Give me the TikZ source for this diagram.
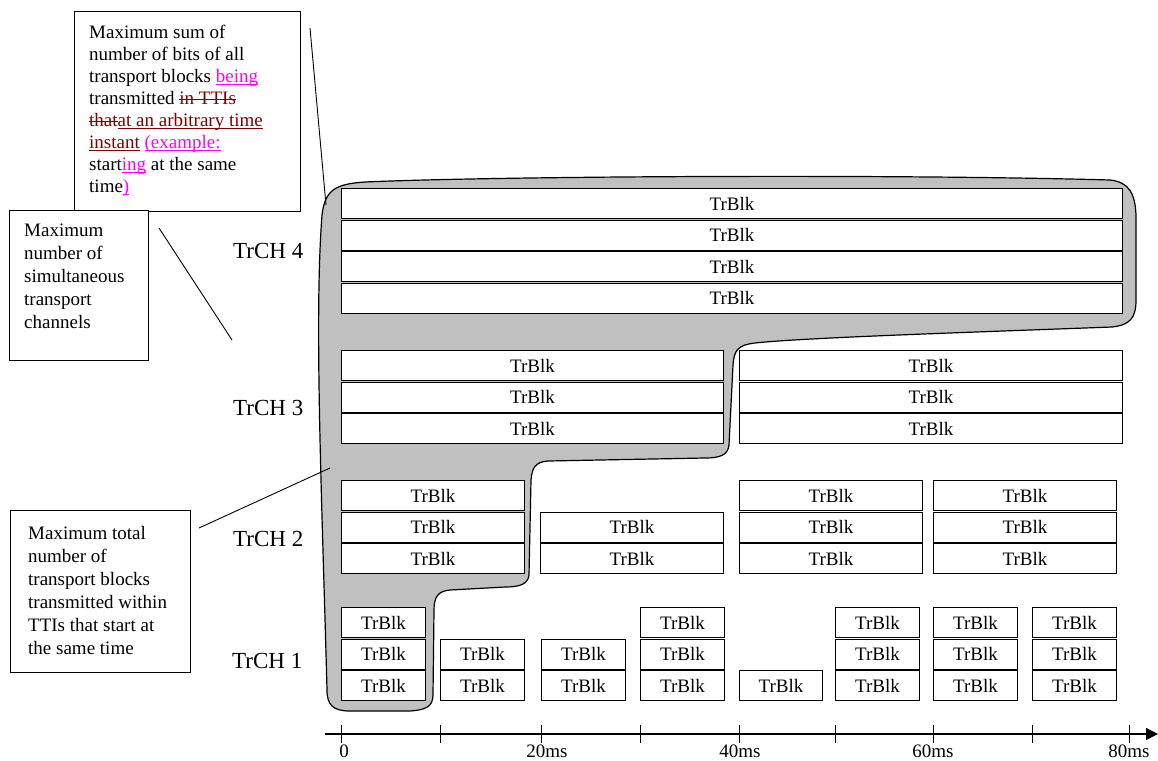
\documentclass[tikz,border=0pt]{standalone}
\usepackage{fontspec}
\setmainfont{Liberation Serif}
\usetikzlibrary{arrows.meta}
\definecolor{shade}{RGB}{192,192,192}
\definecolor{insmag}{RGB}{255,0,255}
\definecolor{deldark}{RGB}{128,0,0}
\newcommand\ulx[1]{\setbox0\hbox{#1}\rlap{\rule[-0.14em]{\wd0}{0.06em}}\box0}
\newcommand\sox[1]{\setbox0\hbox{#1}\rlap{\rule[0.25em]{\wd0}{0.06em}}\box0}
\tikzset{
 trblk/.style={draw, fill=white, line width=1.1pt, inner sep=0pt, minimum height=30pt, font=\fontsize{19}{22}\selectfont},
 annbox/.style={draw, line width=1.1pt, inner sep=0pt, anchor=north west},
 anntext/.style={inner sep=0pt, anchor=north west, align=left},
 chlabel/.style={inner sep=0pt, anchor=base west, font=\fontsize{23}{27}\selectfont},
 axlabel/.style={inner sep=0pt, anchor=base, font=\fontsize{19}{22}\selectfont},
 leader/.style={line width=0.9pt},
 region/.style={fill=shade, line width=1.2pt},
}
\newcommand\tb[4]{\node[trblk,minimum width=#4pt,anchor=north west] (#1) at (#2,#3) {TrBlk};}
\begin{document}
\begin{tikzpicture}[x=1pt,y=-1pt]
\useasboundingbox (0,0) rectangle (1158,760);
\fill[white] (0,0) rectangle (1158,760);
% grey region
\draw[region] (322,215)
  .. controls (325,190) and (335,184) .. (365,182)
  .. controls (500,176) and (900,174) .. (1110,180)
  .. controls (1128,182) and (1135,192) .. (1136,215)
  -- (1136,300)
  .. controls (1136,318) and (1130,325) .. (1112,327)
  .. controls (950,333) and (800,338) .. (755,343)
  .. controls (738,345) and (734,350) .. (733,365)
  -- (729,445)
  .. controls (728,455) and (720,458) .. (705,458)
  -- (548,461)
  .. controls (535,462) and (532,468) .. (531,480)
  -- (529,575)
  .. controls (528,584) and (520,587) .. (505,587)
  -- (450,590)
  .. controls (438,591) and (434,597) .. (434,610)
  -- (433,695)
  .. controls (433,707) and (425,710) .. (410,711)
  -- (350,711)
  .. controls (333,711) and (327,705) .. (327,690)
  .. controls (322,500) and (314,320) .. (322,215)
  -- cycle;
% TrCH 4
\foreach \y [count=\i] in {188,219.5,251,282.5} { \tb{c4r\i}{341}{\y}{781} }
% TrCH 3
\foreach \y [count=\i] in {350,381.5,413} { \tb{c3a\i}{341}{\y}{382} \tb{c3b\i}{739}{\y}{383} }
% TrCH 2
\foreach \y [count=\i] in {480,511.5,543} { \tb{c2a\i}{341}{\y}{183} \tb{c2c\i}{739}{\y}{183} \tb{c2d\i}{933}{\y}{183} }
\foreach \y [count=\i] in {511.5,543} { \tb{c2b\i}{540}{\y}{183} }
% TrCH 1
\foreach \y [count=\i] in {607,638.5,670} {
  \tb{c1a\i}{341}{\y}{84} \tb{c1d\i}{640}{\y}{84} \tb{c1f\i}{835}{\y}{84}
  \tb{c1g\i}{933}{\y}{84} \tb{c1h\i}{1032}{\y}{84} }
\foreach \y [count=\i] in {638.5,670} { \tb{c1b\i}{440}{\y}{84} \tb{c1c\i}{541}{\y}{84} }
\tb{c1e1}{739}{670}{83}
% channel labels
\node[chlabel] (ch4) at (233,258) {TrCH 4};
\node[chlabel] (ch3) at (233,415) {TrCH 3};
\node[chlabel] (ch2) at (233,546) {TrCH 2};
\node[chlabel] (ch1) at (232,668) {TrCH 1};
% axis
\coordinate (ax0) at (325,734);
\coordinate (ax1) at (1158,734);
\draw[line width=1.2pt, -{Triangle[length=12pt,width=12pt]}] (ax0) -- (ax1);
\foreach \x in {341,440,541,640,739,835,933,1032,1129} { \draw[line width=1pt] (\x,725) -- (\x,743); }
\node[axlabel] (t0) at (344,757) {0};
\node[axlabel] (t20) at (547,757) {20ms};
\node[axlabel] (t40) at (740,757) {40ms};
\node[axlabel] (t60) at (933,757) {60ms};
\node[axlabel] (t80) at (1129,757) {80ms};
% annotation boxes
\node[annbox, minimum width=226pt, minimum height=200pt, fill=white] (a1) at (74,11) {};
\node[annbox, minimum width=139pt, minimum height=150pt, fill=white] (a2) at (9,210) {};
\node[annbox, minimum width=180pt, minimum height=162pt, fill=white] (a3) at (10,510) {};
\node[anntext, font=\fontsize{19}{22}\selectfont] (a1t) at (89,25) {Maximum sum of\\
number of bits of all\\
transport blocks \textcolor{insmag}{\ulx{being}}\\
transmitted \textcolor{deldark}{\sox{in TTIs}}\\
\textcolor{deldark}{\sox{that}\ulx{at an arbitrary time}}\\
\textcolor{deldark}{\ulx{instant}} \textcolor{insmag}{\ulx{(example:}}\\
start\textcolor{insmag}{\ulx{ing}} at the same\\
time\textcolor{insmag}{\ulx{)}}};
\node[anntext, font=\fontsize{19}{23}\selectfont] (a2t) at (24,224) {Maximum\\number of\\simultaneous\\transport\\channels};
\node[anntext, font=\fontsize{19}{23}\selectfont] (a3t) at (28,526) {Maximum total\\number of\\transport blocks\\transmitted within\\TTIs that start at\\the same time};
% leader lines
\coordinate (l1a) at (310,28); \coordinate (l1b) at (326,205);
\coordinate (l2a) at (159,228); \coordinate (l2b) at (232,340);
\coordinate (l3a) at (199,528); \coordinate (l3b) at (330,468);
\draw[leader] (l1a) -- (l1b);
\draw[leader] (l2a) -- (l2b);
\draw[leader] (l3a) -- (l3b);
\end{tikzpicture}
\end{document}
